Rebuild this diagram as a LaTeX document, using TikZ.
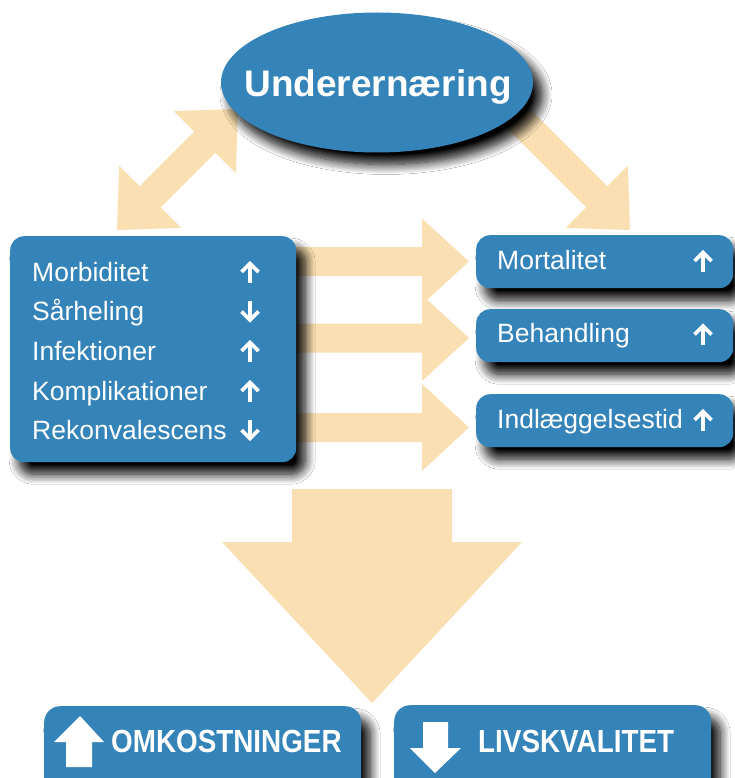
\documentclass[tikz,border=0pt]{standalone}
\usepackage{fontspec}
\setmainfont{Liberation Sans}
\newfontfamily\condfont[FakeStretch=0.87]{Liberation Sans}
\usetikzlibrary{shapes.geometric,shadows.blur}
\definecolor{boxblue}{RGB}{52,131,185}
\definecolor{beige}{RGB}{250,223,178}
\begin{document}
\begin{tikzpicture}[x=1pt,y=-1pt,
  shad/.style={blur shadow={shadow xshift=9pt, shadow yshift=-12pt, shadow blur radius=10pt, shadow opacity=100, shadow blur steps=12}},
  bluebox/.style={fill=boxblue, rounded corners=14pt, inner sep=0pt, anchor=north west, shad},
  lbl/.style={text=white, font=\fontsize{26.5}{30}\selectfont, anchor=base west, inner sep=0pt},
  big/.style={text=white, font=\condfont\bfseries\fontsize{32}{36}\selectfont, anchor=base west, inner sep=0pt},
  blockarrow/.style={fill=beige},
  whitearrow/.style={fill=white},
  glyph/.style={draw=white, line width=3.6pt, line join=miter},
  uparr/.pic={\draw[glyph] (0,10) -- (0,-8); \draw[glyph] (-8.5,-0.5) -- (0,-9) -- (8.5,-0.5);},
  downarr/.pic={\draw[glyph] (0,-10) -- (0,8); \draw[glyph] (-8.5,0.5) -- (0,9) -- (8.5,0.5);}
]
\useasboundingbox (0,0) rectangle (734,778);
\fill[white] (0,0) rectangle (734,778);

% beige block arrows
\fill[blockarrow] (238,109) -- (235.9,173.3) -- (215.4,152.8) -- (160.8,207.4) -- (181.3,227.9) -- (117,230) -- (119.1,165.7) -- (139.6,186.2) -- (194.2,131.6) -- (173.7,111.1) -- cycle;
\fill[blockarrow] (500.6,79.4) -- (607.4,186.2) -- (627.9,165.7) -- (630,230) -- (565.7,227.9) -- (586.2,207.4) -- (479.4,100.6) -- cycle;
\fill[blockarrow] (280,247) -- (422,247) -- (422,218.5) -- (469,261.5) -- (422,304.5) -- (422,276) -- (280,276) -- cycle;
\fill[blockarrow] (280,323.5) -- (422,323.5) -- (422,295) -- (469,338) -- (422,381) -- (422,352.5) -- (280,352.5) -- cycle;
\fill[blockarrow] (280,413) -- (422,413) -- (422,384) -- (469,427.5) -- (422,471) -- (422,442) -- (280,442) -- cycle;
\fill[blockarrow] (292,489) -- (452,489) -- (452,542) -- (522,542) -- (372,703) -- (222,542) -- (292,542) -- cycle;

% top ellipse
\node[ellipse, fill=boxblue, minimum width=312pt, minimum height=140pt, inner sep=0pt, shad] (under) at (377,82.5) {};
\node[text=white, font=\bfseries\fontsize{37}{40}\selectfont, anchor=base, inner sep=0pt] (undertxt) at (378,97) {Underernæring};

% left box
\node[bluebox, minimum width=286pt, minimum height=226pt] (left) at (10,236) {};
\node[lbl] (l1) at (32,281) {Morbiditet};
\node[lbl] (l2) at (32,320.5) {Sårheling};
\node[lbl] (l3) at (32,360) {Infektioner};
\node[lbl] (l4) at (32,400) {Komplikationer};
\node[lbl] (l5) at (32,439) {Rekonvalescens};
\pic at (250,272.5) {uparr};
\pic at (250,311) {downarr};
\pic at (250,351.5) {uparr};
\pic at (250,391.5) {uparr};
\pic at (250,429.5) {downarr};

% right boxes
\node[bluebox, minimum width=257pt, minimum height=53pt] (r1) at (476,235) {};
\node[bluebox, minimum width=257pt, minimum height=53pt] (r2) at (476,309) {};
\node[bluebox, minimum width=257pt, minimum height=53pt] (r3) at (476,394) {};
\node[lbl] (r1t) at (497,269) {Mortalitet};
\node[lbl] (r2t) at (497,342) {Behandling};
\node[lbl] (r3t) at (497,428) {Indlæggelsestid};
\pic at (703,261.5) {uparr};
\pic at (703,335) {uparr};
\pic at (703,420.5) {uparr};

% bottom boxes
\node[bluebox, rounded corners=16pt, minimum width=317pt, minimum height=100pt] (cost) at (44,706) {};
\node[bluebox, rounded corners=16pt, minimum width=317pt, minimum height=100pt] (life) at (394,705) {};
\fill[whitearrow] (80,716) -- (104,742) -- (92,742) -- (92,767) -- (66,767) -- (66,742) -- (54,742) -- cycle;
\fill[whitearrow] (423,722) -- (448,722) -- (448,748) -- (461,748) -- (435,773) -- (410,748) -- (423,748) -- cycle;
\node[big] (costt) at (111,752) {OMKOSTNINGER};
\node[big] (lifet) at (478,752.5) {LIVSKVALITET};
\end{tikzpicture}
\end{document}
